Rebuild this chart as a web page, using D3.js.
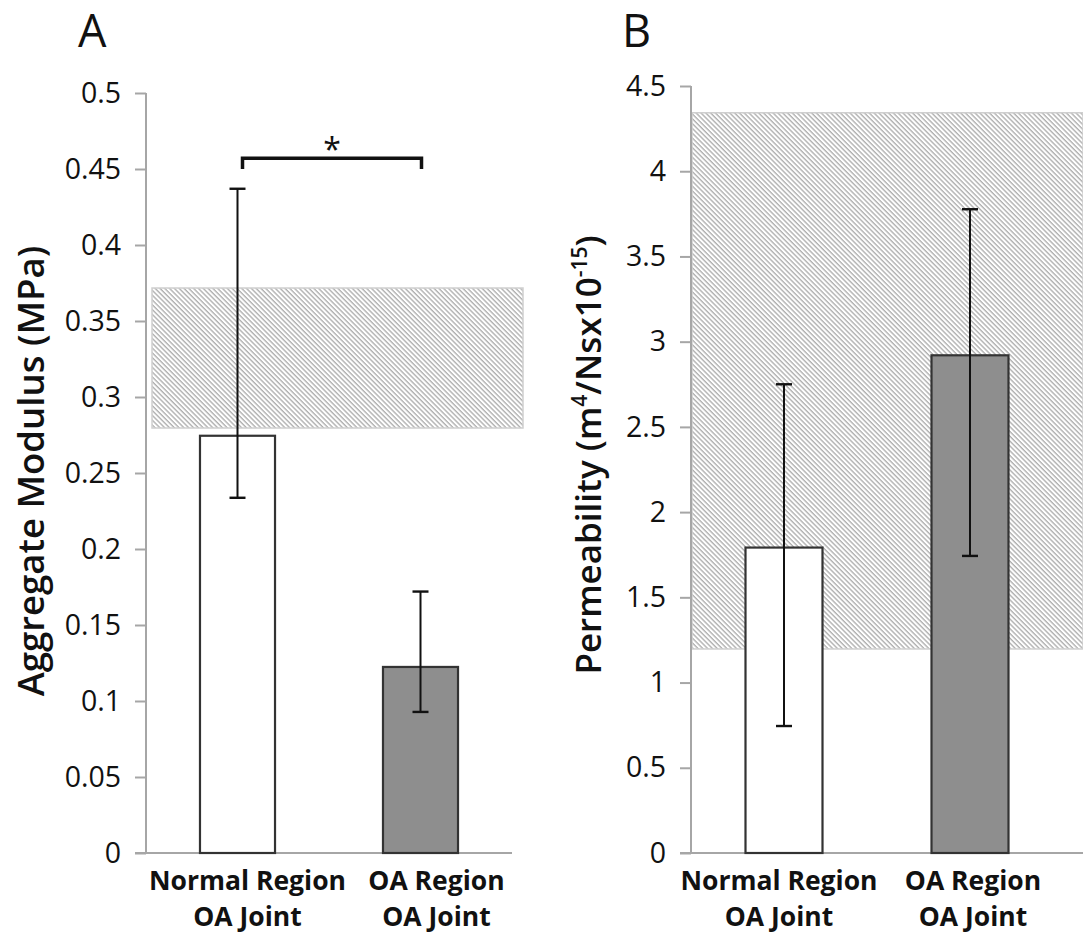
<!DOCTYPE html>
<html>
<head>
<meta charset="utf-8">
<script src="https://cdn.jsdelivr.net/npm/d3@7"></script>
<style>
  html, body { margin: 0; padding: 0; background: #fff; }
  svg { display: block; font-family: "Open Sans", "DejaVu Sans", sans-serif; }
</style>
</head>
<body>
<svg id="chart" width="1083" height="936"></svg>
<script>
// ---- data ----
const categories = [["Normal Region", "OA Joint"], ["OA Region", "OA Joint"]];
const catKeys = ["Normal", "OA"];

const modulusMean = [0.2745, 0.1224];
const modulusLow = [0.2337, 0.0928];
const modulusHigh = [0.437, 0.172];
const modulusRange = [0.2796, 0.3717];   // hatched reference band
const modulusTicks = [0, 0.05, 0.1, 0.15, 0.2, 0.25, 0.3, 0.35, 0.4, 0.45, 0.5];
const modulusBracket = [0.457, 0.45];    // significance bracket level, end level

const permMean = [1.792, 2.92];
const permLow = [0.745, 1.743];
const permHigh = [2.75, 3.777];
const permRange = [1.197, 4.343];
const permTicks = [0, 0.5, 1, 1.5, 2, 2.5, 3, 3.5, 4, 4.5];

const barFills = ["#ffffff", "#8e8e8e"];

const svg = d3.select("#chart");

// hatch pattern
const defs = svg.append("defs");
const pat = defs.append("pattern")
  .attr("id", "hatch")
  .attr("patternUnits", "userSpaceOnUse")
  .attr("width", 3.4).attr("height", 10)
  .attr("patternTransform", "rotate(-45)");
pat.append("rect").attr("width", 3.4).attr("height", 10).attr("fill", "#ffffff");
pat.append("line").attr("x1", 1).attr("x2", 1).attr("y1", 0).attr("y2", 10)
  .attr("stroke", "#aaaaaa").attr("stroke-width", 1.3);

function panel(cfg) {
  const g = svg.append("g");
  const y = d3.scaleLinear().domain(cfg.domain).range([853, cfg.top]);
  const x = d3.scaleBand().domain(catKeys)
    .range([cfg.left, cfg.left + cfg.catWidth * 2])
    .paddingInner(cfg.pad).paddingOuter(cfg.pad / 2);

  // reference band
  g.append("rect")
    .attr("x", cfg.left + cfg.bandX0)
    .attr("width", cfg.bandX1 - cfg.left - cfg.bandX0)
    .attr("y", y(cfg.range[1]))
    .attr("height", y(cfg.range[0]) - y(cfg.range[1]))
    .attr("fill", "url(#hatch)")
    .attr("stroke", "#cfcfcf").attr("stroke-width", 1.5);

  // y axis
  const yAxis = d3.axisLeft(y).tickValues(cfg.ticks).tickSize(11).tickPadding(14)
    .tickFormat(d => String(+d.toFixed(2)));
  const ya = g.append("g").attr("transform", `translate(${cfg.left},0)`).call(yAxis);
  ya.select(".domain").attr("stroke", "#a6a6a6").attr("stroke-width", 2)
    .attr("d", `M0,${y(cfg.domain[1])}V${y(0)}`);
  ya.selectAll(".tick line").attr("stroke", "#a6a6a6").attr("stroke-width", 2);
  ya.selectAll(".tick text").attr("font-size", 28.5).attr("fill", "#111")
    .attr("font-family", "'Open Sans', sans-serif");

  // x axis line
  g.append("line")
    .attr("x1", cfg.left - 11).attr("x2", cfg.xAxisEnd)
    .attr("y1", y(0)).attr("y2", y(0))
    .attr("stroke", "#a6a6a6").attr("stroke-width", 2);

  // bars
  g.selectAll("rect.bar").data(cfg.mean).join("rect")
    .attr("class", "bar")
    .attr("x", (d, i) => x(catKeys[i]))
    .attr("width", x.bandwidth())
    .attr("y", d => y(d))
    .attr("height", d => y(0) - y(d))
    .attr("fill", (d, i) => barFills[i])
    .attr("stroke", "#333").attr("stroke-width", 2.2);

  // error bars
  cfg.mean.forEach((m, i) => {
    const cx = x(catKeys[i]) + x.bandwidth() / 2;
    g.append("line").attr("x1", cx).attr("x2", cx)
      .attr("y1", y(cfg.low[i])).attr("y2", y(cfg.high[i]))
      .attr("stroke", "#111").attr("stroke-width", 2);
    [cfg.low[i], cfg.high[i]].forEach(v => {
      g.append("line").attr("x1", cx - 8).attr("x2", cx + 8)
        .attr("y1", y(v)).attr("y2", y(v))
        .attr("stroke", "#111").attr("stroke-width", 2.4);
    });
  });

  // category labels
  categories.forEach((lines, i) => {
    const cx = x(catKeys[i]) + x.bandwidth() / 2 + cfg.labelShift[i];
    const t = g.append("text").attr("text-anchor", "middle")
      .attr("font-size", 26.5).attr("font-weight", 700).attr("fill", "#111");
    t.append("tspan").attr("x", cx).attr("y", 890).text(lines[0]);
    t.append("tspan").attr("x", cx).attr("y", 926).text(lines[1]);
  });

  // panel letter
  g.append("text").attr("x", cfg.letterX).attr("y", 47)
    .attr("font-size", 45).attr("fill", "#111").text(cfg.letter);

  return { g, x, y };
}

const A = panel({
  domain: [0, 0.5], top: 93, left: 146, catWidth: 183, pad: 0.59,
  ticks: modulusTicks, mean: modulusMean, low: modulusLow, high: modulusHigh,
  range: modulusRange, bandX0: 6, bandX1: 523, xAxisEnd: 512,
  labelShift: [10, 16], letter: "A", letterX: 78
});

const B = panel({
  domain: [0, 4.5], top: 86, left: 691, catWidth: 186, pad: 0.586,
  ticks: permTicks, mean: permMean, low: permLow, high: permHigh,
  range: permRange, bandX0: 1, bandX1: 1083, xAxisEnd: 1083,
  labelShift: [-5, 3], letter: "B", letterX: 622
});

// significance bracket on panel A
{
  const x0 = A.x(catKeys[0]) + A.x.bandwidth() / 2 + 5;
  const x1 = A.x(catKeys[1]) + A.x.bandwidth() / 2 + 1;
  const yTop = A.y(modulusBracket[0]), yEnd = A.y(modulusBracket[1]);
  A.g.append("path")
    .attr("d", `M${x0},${yEnd}V${yTop}H${x1}V${yEnd}`)
    .attr("fill", "none").attr("stroke", "#111").attr("stroke-width", 3.5);
  A.g.append("text").attr("x", (x0 + x1) / 2).attr("y", 161)
    .attr("text-anchor", "middle").attr("font-size", 32).attr("fill", "#111").text("*");
}

// axis titles
svg.append("text")
  .attr("transform", "translate(44,471) rotate(-90)")
  .attr("text-anchor", "middle").attr("font-size", 36.5).attr("font-weight", 600)
  .attr("fill", "#111")
  .text("Aggregate Modulus (MPa)");

{
  const t = svg.append("text")
    .attr("transform", "translate(601,455) rotate(-90)")
    .attr("text-anchor", "middle").attr("font-size", 35).attr("font-weight", 600)
    .attr("fill", "#111");
  t.append("tspan").text("Permeability (m");
  t.append("tspan").attr("font-size", 21).attr("dy", -14).text("4");
  t.append("tspan").attr("dy", 14).text("/Nsx10");
  t.append("tspan").attr("font-size", 21).attr("dy", -14).text("-15");
  t.append("tspan").attr("dy", 14).text(")");
}
</script>
</body>
</html>
